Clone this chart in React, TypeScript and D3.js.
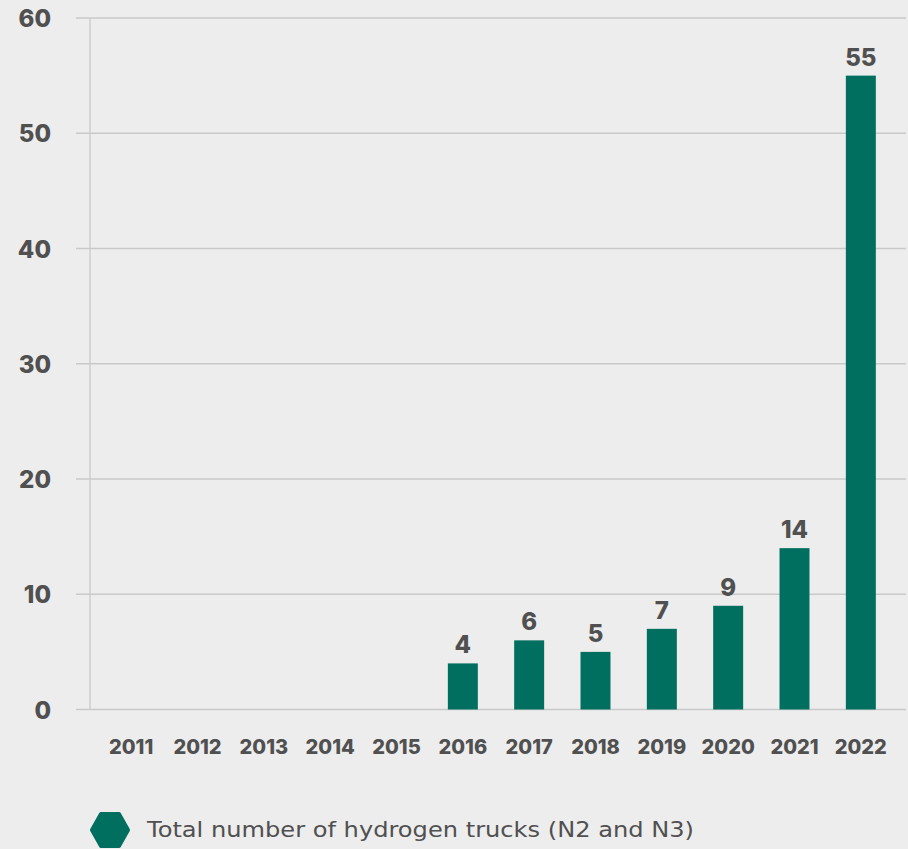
import React from "react";
import * as d3 from "d3";

const years = ["2011", "2012", "2013", "2014", "2015", "2016", "2017", "2018", "2019", "2020", "2021", "2022"];
const values = [0, 0, 0, 0, 0, 4, 6, 5, 7, 9, 14, 55];
const yTicks = [0, 10, 20, 30, 40, 50, 60];
const legendLabel = "Total number of hydrogen trucks (N2 and N3)";

const W = 908;
const H = 849;
const FONT = "Inter, 'Open Sans', sans-serif";
const TEXT = "#505050";
const BAR = "#006f5f";
const GRID = "#c9c9c9";

export default function App() {
  const x = d3.scaleBand<string>().domain(years).range([98, 894]).paddingInner(0.548).paddingOuter(0.274);
  const y = d3.scaleLinear().domain([0, 60]).range([709.5, 18]);

  const hx = 110, hy = 830;
  const hexPts: [number, number][] = [
    [hx - 18, hy],
    [hx - 9, hy - 16],
    [hx + 9, hy - 16],
    [hx + 18, hy],
    [hx + 9, hy + 16],
    [hx - 9, hy + 16],
  ];
  const hexPath = d3.line()(hexPts) + "Z";

  return (
    <svg width={W} height={H} style={{ position: "absolute", left: 0, top: 0, background: "#ededed" }}>
      <rect x={0} y={0} width={W} height={H} fill="#ededed" />
      {yTicks.map((t) => (
        <g key={t}>
          <line x1={76} x2={906} y1={y(t)} y2={y(t)} stroke={GRID} strokeWidth={1.3} />
          <text x={51} y={y(t) + 9} textAnchor="end" fontFamily={FONT} fontWeight={800} fontSize={24} fill={TEXT}>
            {t}
          </text>
        </g>
      ))}
      <line x1={90} x2={90} y1={y(60)} y2={y(0)} stroke={GRID} strokeWidth={1.3} />
      {years.map((yr, i) => (
        <g key={yr}>
          {values[i] > 0 && (
            <>
              <rect x={x(yr)} y={y(values[i])} width={x.bandwidth()} height={y(0) - y(values[i])} fill={BAR} />
              <text
                x={(x(yr) as number) + x.bandwidth() / 2}
                y={y(values[i]) - 10}
                textAnchor="middle"
                fontFamily={FONT}
                fontWeight={800}
                fontSize={24}
                fill={TEXT}
              >
                {values[i]}
              </text>
            </>
          )}
          <text
            x={(x(yr) as number) + x.bandwidth() / 2}
            y={754}
            textAnchor="middle"
            fontFamily={FONT}
            fontWeight={800}
            fontSize={20}
            fill={TEXT}
          >
            {yr}
          </text>
        </g>
      ))}
      <path d={hexPath} fill={BAR} stroke={BAR} strokeWidth={4} strokeLinejoin="round" />
      <text
        x={147}
        y={837}
        fontFamily="'DejaVu Sans', sans-serif"
        fontSize={20.5}
        fill={TEXT}
        textLength={547}
        lengthAdjust="spacingAndGlyphs"
      >
        {legendLabel}
      </text>
    </svg>
  );
}
